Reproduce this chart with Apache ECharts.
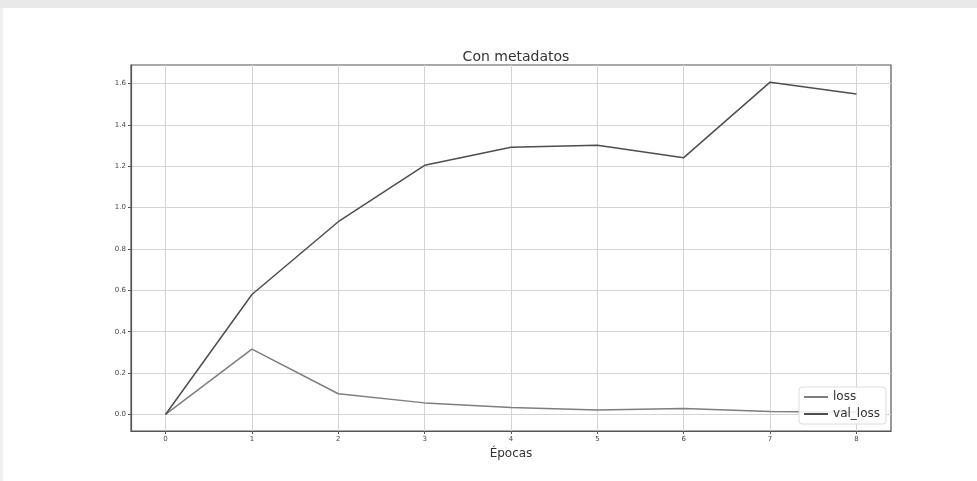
<!DOCTYPE html>
<html>
<head>
<meta charset="utf-8">
<script src="https://cdn.jsdelivr.net/npm/echarts@6/dist/echarts.min.js"></script>
<style>
  html, body { margin: 0; padding: 0; background: #fff; }
  #chart { width: 977px; height: 481px; }
</style>
</head>
<body>
<div id="chart"></div>
<script>
// epochs and the two curves
let epochs = [0, 1, 2, 3, 4, 5, 6, 7, 8];
let loss = [0.0, 0.316, 0.10, 0.056, 0.034, 0.021, 0.029, 0.014, 0.011];
let valLoss = [0.0, 0.58, 0.932, 1.205, 1.292, 1.302, 1.242, 1.607, 1.55];
let yTicks = [0.0, 0.2, 0.4, 0.6, 0.8, 1.0, 1.2, 1.4, 1.6];

function getOption() {
    let option = {
        animation: false,
        backgroundColor: '#fff',
        graphic: [
            { type: 'rect', left: 0, top: 0, shape: { width: 977, height: 8 }, style: { fill: '#e9e9e9' } },
            { type: 'rect', left: 0, top: 8, shape: { width: 3, height: 473 }, style: { fill: '#f0f0f0' } }
        ],
        title: {
            text: 'Con metadatos',
            left: 511,
            top: 45,
            textAlign: 'center',
            textStyle: { fontFamily: 'DejaVu Sans', fontSize: 14, fontWeight: 'normal', color: '#333' }
        },
        grid: {
            left: 131, right: 86, top: 65, bottom: 50,
            show: true,
            borderColor: '#555',
            borderWidth: 1.2
        },
        legend: {
            orient: 'vertical',
            right: 91,
            top: 387,
            itemWidth: 24,
            itemHeight: 2,
            itemGap: 5,
            padding: [4, 6, 4, 4],
            backgroundColor: 'rgba(255,255,255,0.85)',
            borderColor: '#ddd',
            borderWidth: 1,
            borderRadius: 3,
            textStyle: { fontFamily: 'DejaVu Sans', fontSize: 12, color: '#333' },
            data: ['loss', 'val_loss']
        },
        xAxis: {
            type: 'value',
            min: -0.4,
            max: 8.4,
            name: 'Épocas',
            nameLocation: 'middle',
            nameGap: 16,
            nameTextStyle: { fontFamily: 'DejaVu Sans', fontSize: 12, color: '#333' },
            axisLine: { show: true, onZero: false, lineStyle: { color: '#555', width: 1.2 } },
            axisTick: { show: true, length: 3, customValues: epochs, lineStyle: { color: '#555' } },
            axisLabel: { customValues: epochs, fontFamily: 'DejaVu Sans', fontSize: 7, color: '#444', margin: 5 },
            splitLine: { show: true, lineStyle: { color: '#d4d4d4', width: 1 } }
        },
        yAxis: {
            type: 'value',
            min: -0.08,
            max: 1.69,
            axisLine: { show: true, onZero: false, lineStyle: { color: '#555', width: 1.2 } },
            axisTick: { show: true, length: 3, customValues: yTicks, lineStyle: { color: '#555' } },
            axisLabel: {
                customValues: yTicks,
                fontFamily: 'DejaVu Sans', fontSize: 7, color: '#444', margin: 5,
                formatter: (v) => v.toFixed(1)
            },
            splitLine: { show: true, lineStyle: { color: '#d4d4d4', width: 1 } }
        },
        series: []
    };
    option.series.push({
        name: 'loss',
        type: 'line',
        symbol: 'none',
        color: '#7e7e7e',
        lineStyle: { width: 1.5 },
        data: epochs.map((e, i) => [e, loss[i]])
    });
    option.series.push({
        name: 'val_loss',
        type: 'line',
        symbol: 'none',
        color: '#4e4e4e',
        lineStyle: { width: 1.5 },
        data: epochs.map((e, i) => [e, valLoss[i]])
    });
    return option;
}

let myChart = echarts.init(document.getElementById('chart'));
myChart.setOption(getOption());
</script>
</body>
</html>
